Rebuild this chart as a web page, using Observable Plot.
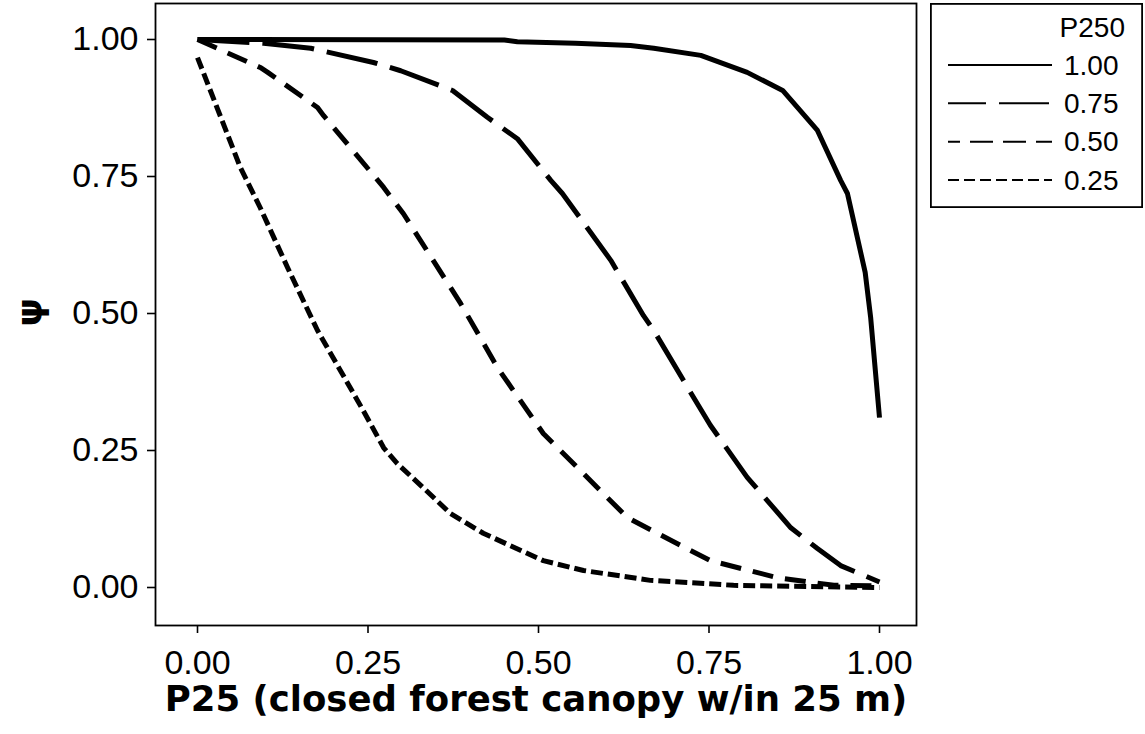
<!DOCTYPE html>
<html>
<head>
<meta charset="utf-8">
<script src="https://cdn.jsdelivr.net/npm/d3@7"></script>
<script src="https://cdn.jsdelivr.net/npm/@observablehq/plot@0.6"></script>
<style>
  html, body { margin: 0; padding: 0; background: white; }
  #wrap { position: relative; width: 1145px; height: 734px; overflow: hidden; }
  #legend { position: absolute; left: 930px; top: 3px; }
</style>
</head>
<body>
<div id="wrap"></div>
<script>
// ---- data ----
const levels = ["1.00", "0.75", "0.50", "0.25"];   // P250 legend entries
const tickValues = [0, 0.25, 0.5, 0.75, 1];
const xTitle = "P25 (closed forest canopy w/in 25 m)";
const yTitle = "ψ";
const legendTitle = "P250";

const x100 = [0, 0.45, 0.469, 0.554, 0.635, 0.669, 0.738, 0.806, 0.858, 0.909, 0.943, 0.953, 0.979, 0.987, 1.0];
const y100 = [1.0, 0.999, 0.996, 0.993, 0.989, 0.984, 0.971, 0.940, 0.907, 0.834, 0.743, 0.719, 0.575, 0.493, 0.310];

const x075 = [0, 0.097, 0.166, 0.258, 0.298, 0.374, 0.425, 0.469, 0.518, 0.535, 0.606, 0.654, 0.669, 0.723, 0.752, 0.806, 0.870, 0.909, 0.943, 1.0];
const y075 = [1.0, 0.993, 0.984, 0.958, 0.943, 0.907, 0.858, 0.819, 0.743, 0.719, 0.597, 0.496, 0.469, 0.356, 0.296, 0.201, 0.109, 0.071, 0.040, 0.010];

const x050 = [0, 0.092, 0.103, 0.176, 0.185, 0.273, 0.302, 0.386, 0.440, 0.507, 0.532, 0.630, 0.674, 0.752, 0.850, 0.933, 1.0];
const y050 = [1.0, 0.949, 0.940, 0.876, 0.861, 0.730, 0.682, 0.518, 0.401, 0.281, 0.250, 0.128, 0.099, 0.049, 0.018, 0.004, 0.003];

const x025 = [0, 0.063, 0.092, 0.132, 0.176, 0.243, 0.273, 0.293, 0.331, 0.371, 0.419, 0.507, 0.566, 0.664, 0.786, 1.0];
const y025 = [0.967, 0.766, 0.693, 0.584, 0.469, 0.323, 0.255, 0.226, 0.182, 0.135, 0.099, 0.049, 0.031, 0.013, 0.004, 0.0];

// ---- build table ----
const seriesX = {"1.00": x100, "0.75": x075, "0.50": x050, "0.25": x025};
const seriesY = {"1.00": y100, "0.75": y075, "0.50": y050, "0.25": y025};
const rows = levels.flatMap(l => seriesX[l].map((x, i) => ({level: l, p25: x, psi: seriesY[l][i]})));

// styles
const plotDash = {"1.00": null, "0.75": "52,13", "0.50": "21,12", "0.25": "12,5"};
const legendDash = {"1.00": null, "0.75": "50,13", "0.50": "23,10", "0.25": "11,5"};
const legendDashOffset = {"1.00": 0, "0.75": 12, "0.50": 11, "0.25": 0};

const fmt = d3.format(".2f");

const lineMarks = levels.slice().reverse().map(l =>
  Plot.line(rows.filter(r => r.level === l), {
    x: "p25", y: "psi", stroke: "black", strokeWidth: 5,
    strokeDasharray: plotDash[l] || undefined,
    strokeLinecap: "butt", strokeLinejoin: "round"
  })
);

const chart = Plot.plot({
  width: 1145,
  height: 734,
  marginLeft: 155,
  marginRight: 229,
  marginTop: 3,
  marginBottom: 109,
  x: {domain: [0, 1], insetLeft: 42, insetRight: 37},
  y: {domain: [0, 1], insetTop: 36, insetBottom: 38},
  style: {fontFamily: "'Liberation Sans', Arial, sans-serif", fontSize: "34px", color: "black", background: "white"},
  marks: [
    Plot.frame({stroke: "black", strokeWidth: 1.8}),
    Plot.axisX({ticks: tickValues, tickFormat: fmt, tickSize: 8, tickPadding: 16, label: null, strokeWidth: 1.6}),
    Plot.axisY({ticks: tickValues, tickFormat: fmt, tickSize: 8, tickPadding: 9, label: null, strokeWidth: 1.6}),
    ...lineMarks,
    Plot.text([xTitle], {text: d => d, frameAnchor: "bottom", dy: 85, fontFamily: "DejaVu Sans", fontWeight: "bold", fontSize: 35.5, fill: "black"}),
    Plot.text([yTitle], {text: d => d, frameAnchor: "left", dx: -125, dy: 12, rotate: -90, fontFamily: "DejaVu Sans", fontWeight: "bold", fontSize: 36, fill: "black"})
  ]
});
document.getElementById("wrap").appendChild(chart);

// ---- legend ----
const lw = 213, lh = 205;
const leg = d3.create("svg")
  .attr("id", "legend")
  .attr("width", lw).attr("height", lh)
  .style("font-family", "'Liberation Sans', Arial, sans-serif")
  .style("font-size", "28px");
leg.append("rect").attr("x", 0.9).attr("y", 0.9).attr("width", lw - 1.8).attr("height", lh - 1.8)
  .attr("fill", "white").attr("stroke", "black").attr("stroke-width", 1.8);
leg.append("text").attr("x", 195).attr("y", 24).attr("dy", "0.35em")
  .attr("text-anchor", "end").text(legendTitle);
const rowY = d3.scalePoint().domain(levels).range([62, 177]);
levels.forEach(l => {
  const y = rowY(l);
  leg.append("line").attr("x1", 18).attr("x2", 122).attr("y1", y).attr("y2", y)
    .attr("stroke", "black").attr("stroke-width", 2)
    .attr("stroke-dasharray", legendDash[l])
    .attr("stroke-dashoffset", legendDashOffset[l]);
  leg.append("text").attr("x", 134).attr("y", y).attr("dy", "0.35em").text(l);
});
document.getElementById("wrap").appendChild(leg.node());
</script>
</body>
</html>
